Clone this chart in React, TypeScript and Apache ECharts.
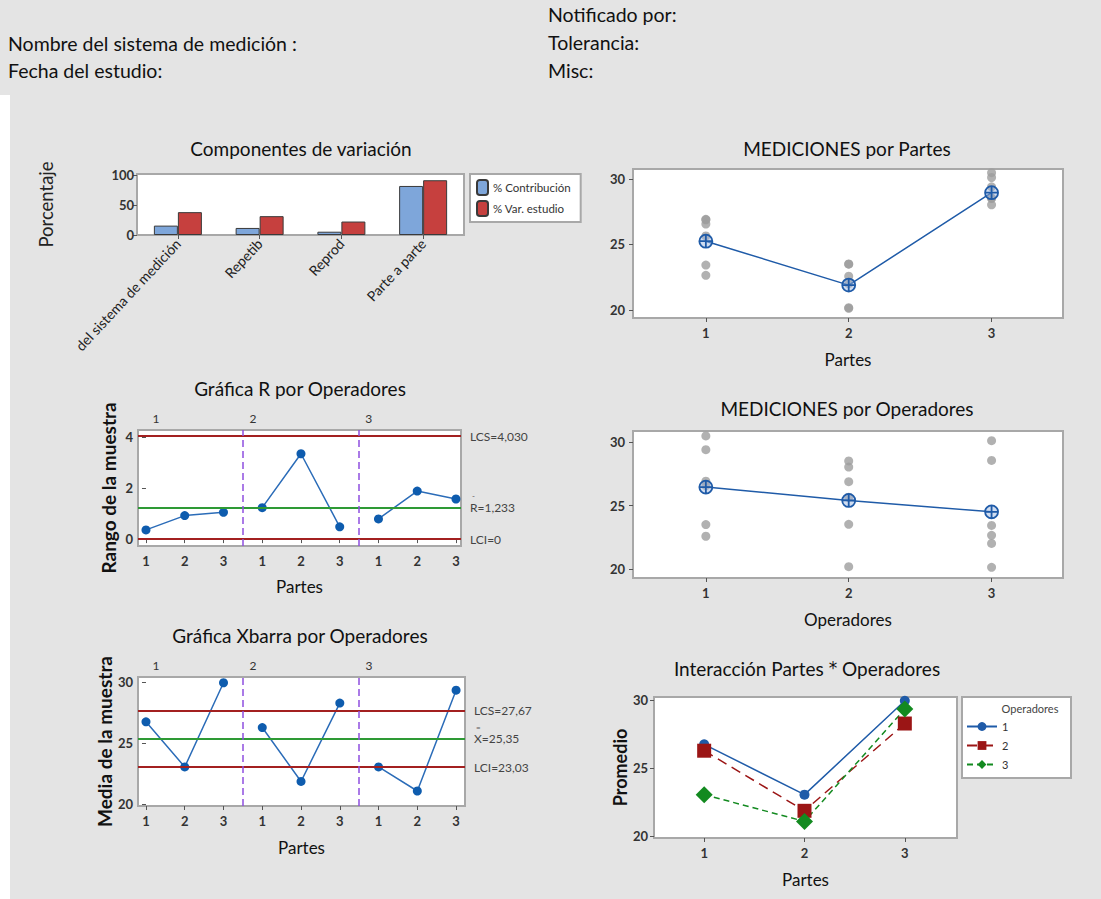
import React, { useEffect, useRef } from "react";
import * as echarts from "echarts";

const FONT = "Lato, 'Open Sans', 'DejaVu Sans', sans-serif";

// ---------- data ----------
const headerLeft = ["Nombre del sistema de medición :", "Fecha del estudio:"];
const headerRight = ["Notificado por:", "Tolerancia:", "Misc:"];

const componentCats = ["del sistema de medición", "Repetib", "Reprod", "Parte a parte"];
const pctContribution = [15.7, 11.8, 5.5, 82.0];
const pctStudyVar = [38.2, 31.5, 22.5, 91.6];
const componentTicks = [0, 50, 100];

const partLabels = ["1", "2", "3"];
const operatorLabels = ["1", "2", "3"];
const measTicks = [20, 25, 30];

// individual measurements: [operator][part] -> trials
const measOp1 = [[26.56, 26.92], [22.58, 23.5], [29.4, 30.48]];
const measOp2 = [[25.65, 26.88], [20.18, 23.52], [28.03, 28.51]];
const measOp3 = [[22.65, 23.43], [20.13, 22.01], [28.55, 30.11]];

const partMeans = [25.25, 21.9, 28.95];
const operatorMeans = [26.45, 25.4, 24.5];

// R chart (range by operator / part)
const rangeOp1 = [0.36, 0.92, 1.05];
const rangeOp2 = [1.23, 3.34, 0.48];
const rangeOp3 = [0.79, 1.88, 1.57];
const rTicks = [0, 2, 4];
const rLimits = [4.03, 1.233, 0];
const rLimitLabels = ["LCS=4,030", "R=1,233", "LCI=0"];

// Xbar chart / interaction (average by operator / part)
const avgOp1 = [26.74, 23.04, 29.94];
const avgOp2 = [26.27, 21.85, 28.27];
const avgOp3 = [23.04, 21.07, 29.33];
const xLimits = [27.67, 25.35, 23.03];
const xLimitLabels = ["LCS=27,67", "X=25,35", "LCI=23,03"];

const titles = [
  "Componentes de variación",
  "MEDICIONES por Partes",
  "Gráfica R por Operadores",
  "MEDICIONES por Operadores",
  "Gráfica Xbarra por Operadores",
  "Interacción Partes * Operadores",
];

// ---------- styles ----------
const BLUE = "#1F5BA8";
const LINEBLUE = "#2B6CB8";
const DOT = "#0E5CAE";
const GRAY = "#9d9d9d";
const RED = "#A32020";
const GREEN = "#2E9A35";
const PURPLE = "#8E4FE0";
const LABEL = "#333";
const meanSymbol =
  "path://M10,0A10,10 0 1 1 10,20A10,10 0 1 1 10,0Z M0,10L20,10 M10,0L10,20";

const tickLabelStyle = { fontSize: 13, color: LABEL, fontWeight: "bold", fontFamily: FONT };
const yNameStyle = { fontSize: 19, color: "#111", fontFamily: FONT, fontWeight: "bold" };

function yVal(gridIndex: number, min: number, max: number, ticks: number[], margin: number, name?: string, nameGap?: number) {
  return {
    type: "value",
    gridIndex,
    min,
    max,
    axisLine: { show: false },
    splitLine: { show: false },
    axisTick: { show: true, length: 4, lineStyle: { color: "#555" }, customValues: ticks },
    axisLabel: { customValues: ticks, margin, ...tickLabelStyle },
    name,
    nameLocation: "middle",
    nameGap,
    nameTextStyle: yNameStyle,
  };
}

function xVal(gridIndex: number, min: number, max: number, ticks: number[], fmt: (v: number) => string, margin: number, name?: string, nameGap?: number) {
  return {
    type: "value",
    gridIndex,
    min,
    max,
    axisLine: { show: false },
    splitLine: { show: false },
    axisTick: { show: true, length: 4, lineStyle: { color: "#555" }, customValues: ticks },
    axisLabel: { customValues: ticks, margin, formatter: fmt, ...tickLabelStyle },
    name,
    nameLocation: "middle",
    nameGap,
    nameTextStyle: { fontSize: 17, color: "#111", fontFamily: FONT },
  };
}

function xTop(gridIndex: number, min: number, max: number, ticks: number[]) {
  return {
    type: "value",
    gridIndex,
    position: "top",
    min,
    max,
    axisLine: { show: false },
    splitLine: { show: false },
    axisTick: { show: false },
    axisLabel: {
      customValues: ticks,
      fontSize: 12,
      color: LABEL,
      margin: 6,
      fontFamily: FONT,
      formatter: (v: number) => operatorLabels[Math.floor((v + 0.5) / 3)],
    },
  };
}

const limitLabelBase = { show: true, position: "end", distance: 9, color: "#444", fontSize: 12, fontFamily: FONT };

function controlMarkLine(limits: number[], labels: string[], barMark: string) {
  const lineColors = [RED, GREEN, RED];
  const items: any[] = limits.map((v, i) => ({
    yAxis: v,
    lineStyle: { color: lineColors[i], width: 2, type: "solid" },
    label:
      i === 1
        ? {
            ...limitLabelBase,
            formatter: "{o|" + barMark + "}\n{t|" + labels[i] + "}\n{o| }",
            rich: {
              o: { fontSize: 8, lineHeight: 9, color: "#555", fontFamily: FONT, padding: [0, 0, 0, 2] },
              t: { fontSize: 12, lineHeight: 14, color: "#444", fontFamily: FONT },
            },
          }
        : { ...limitLabelBase, formatter: labels[i] },
  }));
  [2.5, 5.5].forEach((x) =>
    items.push({ xAxis: x, lineStyle: { color: PURPLE, width: 1.5, type: [7, 4] }, label: { show: false } })
  );
  return { silent: true, symbol: "none", data: items };
}

function buildOption() {
  const grids = [
    { left: 137, top: 174, width: 327, height: 61 }, // components
    { left: 633, top: 169, width: 430, height: 149 }, // parts
    { left: 138, top: 430, width: 323, height: 116 }, // R
    { left: 633, top: 431, width: 430, height: 147 }, // operators
    { left: 138, top: 677, width: 327, height: 129 }, // Xbar
    { left: 654, top: 697, width: 303, height: 141 }, // interaction
  ].map((g) => ({ ...g, show: true, backgroundColor: "#fff", borderColor: "#a8a8a8", borderWidth: 2 }));

  const seqPositions = operatorLabels.flatMap((_, o) => partLabels.map((_, p) => o * 3 + p));
  const seqFmt = (v: number) => partLabels[Math.round(v) % 3];
  const groupLabelPos = [0.26, 2.76, 5.75];
  const partPos = partLabels.map((_, i) => i + 1);
  const partFmt = (v: number) => partLabels[Math.round(v) - 1];
  const opFmt = (v: number) => operatorLabels[Math.round(v) - 1];

  const xAxis: any[] = [
    {
      type: "category",
      gridIndex: 0,
      data: componentCats,
      axisLine: { show: false },
      axisTick: { show: true, alignWithLabel: true, length: 4, lineStyle: { color: "#555" } },
      axisLabel: { rotate: 47, interval: 0, fontSize: 14, color: "#222", margin: 6, fontFamily: FONT },
    },
    xVal(1, 0.49, 3.5, partPos, partFmt, 8, "Partes", 33),
    xVal(2, -0.206, 8.13, seqPositions, seqFmt, 8, "Partes", 32),
    xTop(2, -0.206, 8.13, groupLabelPos),
    xVal(3, 0.49, 3.5, partPos, opFmt, 8, "Operadores", 33),
    xVal(4, -0.206, 8.23, seqPositions, seqFmt, 8, "Partes", 33),
    xTop(4, -0.206, 8.23, groupLabelPos),
    xVal(5, 0.5, 3.52, partPos, partFmt, 8, "Partes", 33),
  ];

  const yAxis: any[] = [
    { ...yVal(0, 0, 102, componentTicks, 3, "Porcentaje", 82), nameTextStyle: { fontSize: 18.5, color: "#222", fontFamily: FONT } },
    yVal(1, 19.39, 30.76, measTicks, 8),
    yVal(2, -0.27, 4.27, rTicks, 5, "Rango de la muestra", 20),
    yVal(3, 19.29, 30.87, measTicks, 8),
    yVal(4, 19.84, 30.41, measTicks, 5, "Media de la muestra", 20),
    { ...yVal(5, 19.85, 30.22, measTicks, 6, "Promedio", 20), nameTextStyle: { ...yNameStyle, fontSize: 18 } },
  ];

  const series: any[] = [];

  // Components of variation
  series.push({
    type: "bar",
    name: "% Contribución",
    xAxisIndex: 0,
    yAxisIndex: 0,
    data: pctContribution,
    barWidth: 24,
    barGap: "0%",
    itemStyle: { color: "#7EA6DA", borderColor: "#3a3a3a", borderWidth: 1 },
  });
  series.push({
    type: "bar",
    name: "% Var. estudio",
    xAxisIndex: 0,
    yAxisIndex: 0,
    data: pctStudyVar,
    barWidth: 24,
    barGap: "0%",
    itemStyle: { color: "#C6403E", borderColor: "#3a3a3a", borderWidth: 1 },
  });

  const allOps = [measOp1, measOp2, measOp3];

  // Measurements by part
  const partDots: number[][] = [];
  allOps.forEach((op) => op.forEach((trials, p) => trials.forEach((v) => partDots.push([p + 1, v]))));
  series.push({ type: "scatter", name: "mp", xAxisIndex: 1, yAxisIndex: 1, data: partDots, symbolSize: 9, itemStyle: { color: GRAY }, silent: true });
  series.push({
    type: "line",
    name: "mpm",
    xAxisIndex: 1,
    yAxisIndex: 1,
    data: partMeans.map((v, i) => [i + 1, v]),
    symbol: meanSymbol,
    symbolSize: 13,
    lineStyle: { color: BLUE, width: 1.5 },
    itemStyle: { color: "rgba(150,180,225,0.45)", borderColor: BLUE, borderWidth: 1.8 },
    z: 3,
  });

  // Measurements by operator
  const opDots: number[][] = [];
  allOps.forEach((op, o) => op.forEach((trials) => trials.forEach((v) => opDots.push([o + 1, v]))));
  series.push({ type: "scatter", name: "mo", xAxisIndex: 4, yAxisIndex: 3, data: opDots, symbolSize: 9, itemStyle: { color: GRAY }, silent: true });
  series.push({
    type: "line",
    name: "mom",
    xAxisIndex: 4,
    yAxisIndex: 3,
    data: operatorMeans.map((v, i) => [i + 1, v]),
    symbol: meanSymbol,
    symbolSize: 13,
    lineStyle: { color: BLUE, width: 1.5 },
    itemStyle: { color: "rgba(150,180,225,0.45)", borderColor: BLUE, borderWidth: 1.8 },
    z: 3,
  });

  // R chart
  [rangeOp1, rangeOp2, rangeOp3].forEach((r, o) => {
    series.push({
      type: "line",
      name: "R" + o,
      xAxisIndex: 2,
      yAxisIndex: 2,
      data: r.map((v, i) => [o * 3 + i, v]),
      symbol: "circle",
      symbolSize: 9,
      lineStyle: { color: LINEBLUE, width: 1.5 },
      itemStyle: { color: DOT },
      z: 4,
      markLine: o === 0 ? controlMarkLine(rLimits, rLimitLabels, "-") : undefined,
    });
  });

  // Xbar chart
  [avgOp1, avgOp2, avgOp3].forEach((a, o) => {
    series.push({
      type: "line",
      name: "X" + o,
      xAxisIndex: 5,
      yAxisIndex: 4,
      data: a.map((v, i) => [o * 3 + i, v]),
      symbol: "circle",
      symbolSize: 9,
      lineStyle: { color: LINEBLUE, width: 1.5 },
      itemStyle: { color: DOT },
      z: 4,
      markLine: o === 0 ? controlMarkLine(xLimits, xLimitLabels, "=") : undefined,
    });
  });

  // Interaction
  const interStyles = [
    { color: "#1F5BA8", type: "solid", symbol: "circle", size: 10 },
    { color: "#9B1515", type: [10, 6], symbol: "rect", size: 14 },
    { color: "#138A20", type: [6, 4], symbol: "diamond", size: 17 },
  ];
  [avgOp1, avgOp2, avgOp3].forEach((a, o) => {
    const s = interStyles[o];
    series.push({
      type: "line",
      name: operatorLabels[o],
      xAxisIndex: 7,
      yAxisIndex: 5,
      data: a.map((v, i) => [i + 1, v]),
      symbol: s.symbol,
      symbolSize: s.size,
      lineStyle: { color: s.color, width: 1.5, type: s.type },
      itemStyle: { color: s.color },
    });
  });

  const titlePos = [
    [301, 148],
    [847, 148],
    [300, 388],
    [847, 408],
    [300, 635],
    [807, 668],
  ];

  const txt = (t: string, x: number, y: number, size: number, align: string, fill = "#111") => ({
    type: "text",
    x,
    y,
    style: {
      text: t,
      fill,
      font: size + "px " + FONT,
      fontSize: size,
      fontFamily: FONT,
      textAlign: align,
      textVerticalAlign: "middle",
      align,
      verticalAlign: "middle",
    },
  });

  const graphic: any[] = [
    { type: "rect", shape: { x: 0, y: 95, width: 10, height: 804 }, style: { fill: "#ffffff" } },
    ...headerLeft.map((t, i) => txt(t, 8, 43 + i * 27, 19.5, "left")),
    ...headerRight.map((t, i) => txt(t, 548, 14 + i * 28, 19.5, "left")),
    ...titles.map((t, i) => {
      const el: any = txt(t, titlePos[i][0], titlePos[i][1], 19, "center");
      if (t.indexOf("*") >= 0) {
        const parts = t.split("*");
        el.style.text = parts[0] + "{s|*}" + parts[1];
        el.style.rich = { s: { fontFamily: "'DejaVu Sans', 'Liberation Sans'", fontSize: 17, fill: "#111", fill2: "#111" } };
      }
      return el;
    }),
    { type: "rect", shape: { x: 962, y: 697, width: 109, height: 81 }, style: { fill: "#fff", stroke: "#a8a8a8", lineWidth: 2 }, z: 0 },
    { ...txt("Operadores", 1030, 708, 11, "center", "#444"), z: 1 },
  ];

  return {
    animation: false,
    backgroundColor: "#e4e4e4",
    textStyle: { fontFamily: FONT },
    grid: grids,
    xAxis,
    yAxis,
    legend: [
      {
        data: ["% Contribución", "% Var. estudio"],
        left: 470,
        top: 174,
        orient: "vertical",
        itemWidth: 11,
        itemHeight: 15,
        itemGap: 4,
        padding: [5, 10, 5, 6],
        backgroundColor: "#fff",
        borderColor: "#a8a8a8",
        borderWidth: 2,
        selectedMode: false,
        textStyle: { fontSize: 11.5, color: "#333", fontFamily: FONT },
      },
      {
        data: operatorLabels,
        left: 966,
        top: 721,
        orient: "vertical",
        itemWidth: 30,
        itemHeight: 11,
        itemGap: 8,
        padding: 0,
        selectedMode: false,
        textStyle: { fontSize: 11, color: "#333", fontFamily: FONT },
      },
    ],
    series,
    graphic,
  };
}

export default function App() {
  const ref = useRef<HTMLDivElement>(null);
  useEffect(() => {
    const chart = echarts.init(ref.current!, null, { renderer: "svg" });
    chart.setOption(buildOption() as any);
    return () => chart.dispose();
  }, []);
  return <div ref={ref} style={{ position: "absolute", left: 0, top: 0, width: 1101, height: 899 }} />;
}
